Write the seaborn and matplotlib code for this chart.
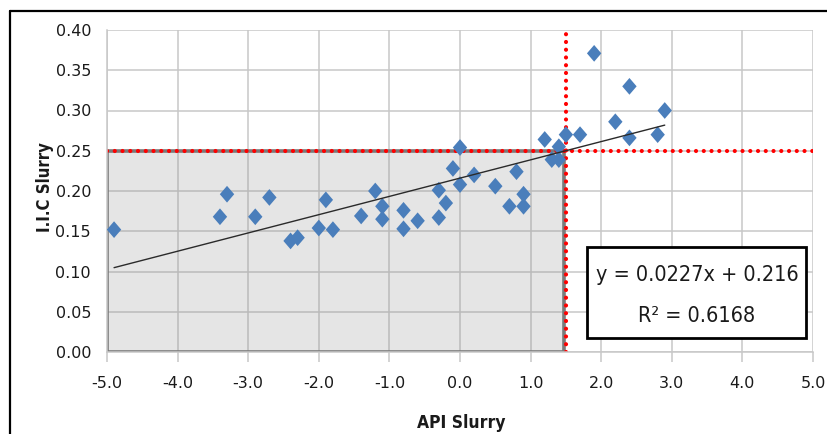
import numpy as np
import pandas as pd
import seaborn as sns
import matplotlib
matplotlib.use("Agg")
import matplotlib.pyplot as plt
from matplotlib.patches import Rectangle
from matplotlib.lines import Line2D
from matplotlib import font_manager as fm

# ---------------- data ----------------
api_slurry = [-4.9, -3.4, -3.3, -2.9, -2.7, -2.4, -2.3, -2.0, -1.9, -1.8,
              -1.4, -1.2, -1.1, -1.1, -0.8, -0.8, -0.6, -0.3, -0.3, -0.2,
              -0.1, 0.0, 0.0, 0.2, 0.5, 0.7, 0.8, 0.9, 0.9, 1.2,
              1.3, 1.4, 1.4, 1.5, 1.7, 1.9, 2.2, 2.4, 2.4, 2.8, 2.9]
iic_slurry = [0.152, 0.168, 0.196, 0.168, 0.192, 0.138, 0.142, 0.154, 0.189, 0.152,
              0.169, 0.200, 0.181, 0.165, 0.176, 0.153, 0.163, 0.201, 0.167, 0.185,
              0.228, 0.254, 0.208, 0.220, 0.206, 0.181, 0.224, 0.196, 0.181, 0.264,
              0.239, 0.239, 0.255, 0.270, 0.270, 0.371, 0.286, 0.330, 0.266, 0.270, 0.300]
slope = 0.0227
intercept = 0.216
r_squared = 0.6168
limit_x = 1.5
limit_y = 0.25
x_ticks = [-5.0, -4.0, -3.0, -2.0, -1.0, 0.0, 1.0, 2.0, 3.0, 4.0, 5.0]
y_ticks = [0.00, 0.05, 0.10, 0.15, 0.20, 0.25, 0.30, 0.35, 0.40]
x_label = "API Slurry"
y_label = "I.I.C Slurry"

# ---------------- style ----------------
sns.set_theme(style="white")
plt.rcParams["font.family"] = ["DejaVu Sans"]


def find_narrow(bold):
    """Look for a condensed/narrow font file."""
    cands = []
    for f in fm.fontManager.ttflist:
        nm = f.name.lower()
        st = str(f.stretch).lower()
        is_narrow = ("narrow" in nm or "condensed" in nm or st in
                     ("condensed", "semi-condensed", "extra-condensed", "ultra-condensed")
                     or (isinstance(f.stretch, (int, float)) and f.stretch < 500))
        if not is_narrow:
            continue
        if "mono" in nm or ("serif" in nm and "sans" not in nm):
            continue
        w = f.weight if isinstance(f.weight, (int, float)) else (700 if "bold" in str(f.weight) else 400)
        if (w >= 600) != bold:
            continue
        if f.style != "normal":
            continue
        pr = 0 if "liberation" in nm else (1 if "dejavu" in nm else 2)
        cands.append((pr, f.fname))
    if cands:
        cands.sort()
        return cands[0][1]
    return None


reg_path = find_narrow(False)
bold_path = find_narrow(True)


def fprops(size, bold=False):
    path = bold_path if bold else reg_path
    if path:
        return fm.FontProperties(fname=path, size=size)
    return fm.FontProperties(family=["Liberation Sans", "DejaVu Sans"], size=size * 0.95,
                             weight="bold" if bold else "normal")


W, H = 828, 434
fig = plt.figure(figsize=(W / 100, H / 100), dpi=100)
fig.patch.set_facecolor("white")


def fx(px):
    return px / W


def fy(py):
    return 1 - py / H


ax = fig.add_axes([fx(107), fy(352), fx(813) - fx(107), fy(30) - fy(352)])
ax.set_xlim(x_ticks[0], x_ticks[-1])
ax.set_ylim(y_ticks[0], y_ticks[-1])

# grid
grid_c = "#c8c8c8"
ax.set_axisbelow(True)
ax.grid(True, color=grid_c, linewidth=1.1)
for s in ["top", "right"]:
    ax.spines[s].set_visible(False)
for s in ["left", "bottom"]:
    ax.spines[s].set_color(grid_c)
    ax.spines[s].set_linewidth(1.1)

ax.set_xticks(x_ticks)
ax.set_xticklabels([f"{v:.1f}" for v in x_ticks])
ax.set_yticks(y_ticks)
ax.set_yticklabels([f"{v:.2f}" for v in y_ticks])
ax.tick_params(axis="x", direction="out", length=7, width=1.1, color=grid_c,
               pad=10.5, labelsize=11.5, labelcolor="#1a1a1a", bottom=True)
ax.tick_params(axis="y", length=0, pad=11.5, labelsize=11.5, labelcolor="#1a1a1a", left=True)

# shaded region
ax.add_patch(Rectangle((x_ticks[0], 0), limit_x - x_ticks[0] - 0.03, limit_y,
                       facecolor=(0.55, 0.55, 0.55), alpha=0.22, edgecolor="none", zorder=1))
ax.add_patch(Rectangle((x_ticks[0], 0), limit_x - x_ticks[0] - 0.03, limit_y,
                       facecolor="none", edgecolor="#7a7a7a", linewidth=2.6, zorder=1.5))

# red dotted limit lines
dot = dict(color="#ff0000", linewidth=3.0, linestyle=(0, (0.01, 1.85)),
           dash_capstyle="round", zorder=2)
ax.plot([x_ticks[0], x_ticks[-1]], [limit_y, limit_y], **dot)
ax.plot([limit_x, limit_x], [0, 0.397], **dot)

# scatter
df = pd.DataFrame({x_label: api_slurry, y_label: iic_slurry})
diamond = [(0, 1), (0.86, 0), (0, -1), (-0.86, 0), (0, 1)]
sns.scatterplot(data=df, x=x_label, y=y_label, marker=diamond, s=145,
                color="#4a7ebb", edgecolor="none", linewidth=0, ax=ax, zorder=3, legend=False)

# trendline
tx = np.array([min(api_slurry), max(api_slurry)])
trend = pd.DataFrame({"x": tx, "y": slope * tx + intercept})
sns.lineplot(data=trend, x="x", y="y", color="#2a2a2a", linewidth=1.0, ax=ax, zorder=4)

ax.set_xlabel("")
ax.set_ylabel("")

# axis labels
fig.text(fx(461), fy(423), x_label, ha="center", va="center",
         fontproperties=fprops(12.5, bold=True), color="#1a1a1a")
fig.text(fx(45), fy(187), y_label, ha="center", va="center", rotation=90,
         fontproperties=fprops(12.0, bold=True), color="#1a1a1a")

# equation box
fig.patches.append(Rectangle((fx(587), fy(337.5)), fx(806) - fx(587), fy(247) - fy(337.5),
                             transform=fig.transFigure, facecolor="white",
                             edgecolor="black", linewidth=2.0, zorder=10))
fig.text(fx(697), fy(275), f"y = {slope}x + {intercept}", ha="center", va="center",
         fontproperties=fprops(15.5), color="#1a1a1a", zorder=11)
fig.text(fx(697), fy(316), f"R² = {r_squared}", ha="center", va="center",
         fontproperties=fprops(15.5), color="#1a1a1a", zorder=11)

# figure frame (top and left)
fig.add_artist(Line2D([fx(10), 1], [fy(11), fy(11)], transform=fig.transFigure,
                      color="black", linewidth=1.6))
fig.add_artist(Line2D([fx(10), fx(10)], [fy(11), 0], transform=fig.transFigure,
                      color="black", linewidth=1.6))

fig.savefig("out.png", dpi=100, facecolor="white")
